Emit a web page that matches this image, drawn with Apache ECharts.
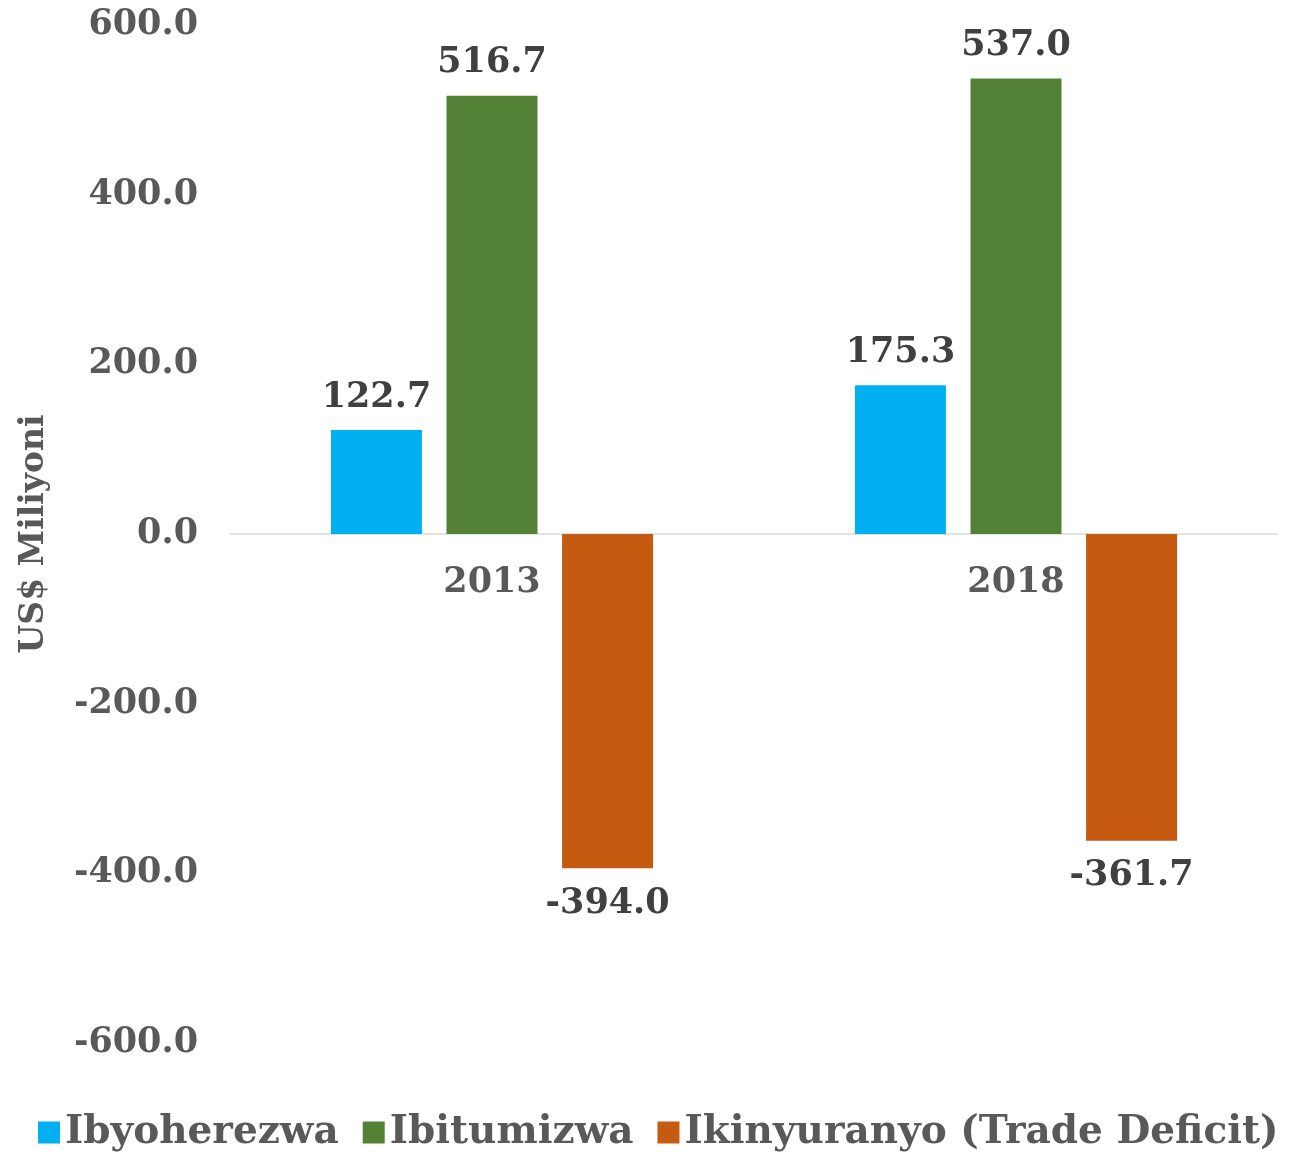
<!DOCTYPE html>
<html>
<head>
<meta charset="utf-8">
<script src="https://cdn.jsdelivr.net/npm/echarts@6/dist/echarts.min.js"></script>
<style>
  html, body { margin: 0; padding: 0; background: #fff; }
  #main { width: 1307px; height: 1152px; }
</style>
</head>
<body>
<div id="main"></div>
<script>
// imyaka
var years = ["2013", "2018"];
// US$ miliyoni
var ibyoherezwa = [122.7, 175.3];
var ibitumizwa = [516.7, 537.0];
var ikinyuranyo = [-394.0, -361.7];
var seriesNames = ["Ibyoherezwa", "Ibitumizwa", "Ikinyuranyo (Trade Deficit)"];

var fontFam = "'DejaVu Serif', serif";

var chart = echarts.init(document.getElementById("main"));

function barLabel(pos, dist) {
  return {
    show: true,
    position: pos,
    distance: dist,
    fontFamily: fontFam,
    fontWeight: "bold",
    fontSize: 35,
    color: "#404040",
    formatter: function (p) {
      return p.value.toFixed(1);
    }
  };
}

var option = {
  animation: false,
  grid: {
    left: 230,
    right: 29,
    top: 25,
    bottom: 109
  },
  legend: {
    left: 33,
    bottom: -5,
    itemWidth: 22,
    itemHeight: 22,
    itemGap: 24,
    icon: "rect",
    textStyle: {
      fontFamily: fontFam,
      fontWeight: "bold",
      fontSize: 39,
      color: "#595959"
    },
    data: seriesNames
  },
  xAxis: {
    type: "category",
    data: years,
    axisTick: { show: false },
    axisLine: { onZero: true, lineStyle: { color: "#d9d9d9", width: 1.5 } },
    // imyaka yandikwa ku murongo wa 0 n'iyi scatter iri hasi
    axisLabel: { show: false }
  },
  yAxis: {
    type: "value",
    min: -600,
    max: 600,
    interval: 200,
    name: "US$ Miliyoni",
    nameLocation: "middle",
    nameGap: 179,
    nameTextStyle: {
      fontFamily: fontFam,
      fontWeight: "bold",
      fontSize: 33,
      color: "#595959"
    },
    splitLine: { show: false },
    axisLine: { show: false },
    axisTick: { show: false },
    axisLabel: {
      margin: 32,
      fontFamily: fontFam,
      fontWeight: "bold",
      fontSize: 35,
      color: "#595959",
      formatter: function (v) {
        return v.toFixed(1);
      }
    }
  },
  series: [
    {
      name: seriesNames[0],
      type: "bar",
      data: ibyoherezwa,
      barWidth: 91,
      barGap: "27%",
      itemStyle: { color: "#00B0F0" },
      label: barLabel("top", 15)
    },
    {
      name: seriesNames[1],
      type: "bar",
      data: ibitumizwa,
      barWidth: 91,
      barGap: "27%",
      itemStyle: { color: "#538135" },
      label: barLabel("top", 15)
    },
    {
      name: seriesNames[2],
      type: "bar",
      data: ikinyuranyo,
      barWidth: 91,
      barGap: "27%",
      itemStyle: { color: "#C55A11" },
      label: barLabel("bottom", 18)
    },
    {
      name: "years",
      type: "scatter",
      data: years.map(function (y) { return [y, 0]; }),
      symbolSize: 0,
      silent: true,
      z: 1,
      itemStyle: { opacity: 1 },
      label: {
        show: true,
        position: "bottom",
        distance: 31,
        opacity: 1,
        fontFamily: fontFam,
        fontWeight: "bold",
        fontSize: 35,
        color: "#595959",
        formatter: function (p) {
          return p.value[0];
        }
      }
    }
  ]
};

chart.setOption(option);
</script>
</body>
</html>
